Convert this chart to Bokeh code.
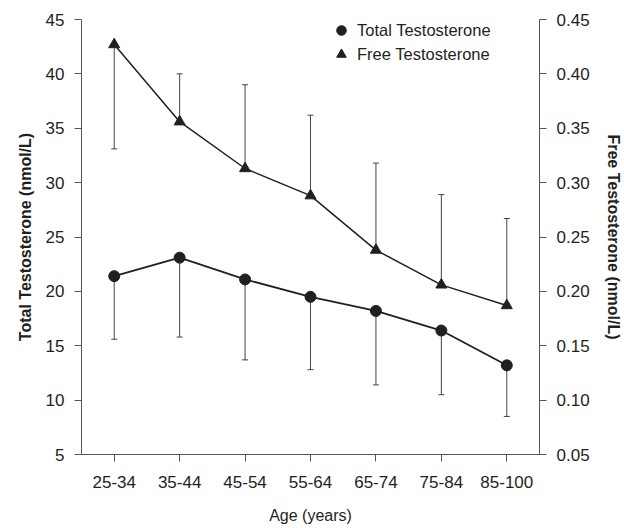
from bokeh.plotting import figure
from bokeh.models import (Range1d, LinearAxis, FixedTicker, PrintfTickFormatter,
                          Legend, LegendItem, ColumnDataSource)
from bokeh.embed import file_html
from bokeh.resources import INLINE

ages = ["25-34", "35-44", "45-54", "55-64", "65-74", "75-84", "85-100"]
total = [21.4, 23.1, 21.1, 19.5, 18.2, 16.4, 13.2]
total_bar_end = [15.6, 15.8, 13.7, 12.8, 11.4, 10.5, 8.5]
free = [0.427, 0.356, 0.313, 0.288, 0.238, 0.206, 0.187]
free_bar_end = [0.331, 0.400, 0.390, 0.362, 0.318, 0.289, 0.267]
left_ticks = [5, 10, 15, 20, 25, 30, 35, 40, 45]
right_ticks = [0.05, 0.10, 0.15, 0.20, 0.25, 0.30, 0.35, 0.40, 0.45]

FONT = "Liberation Sans"
INK = "#231f20"
AXC = "#555555"

src = ColumnDataSource(dict(age=ages, total=total, tlow=total_bar_end,
                            free=free, fend=free_bar_end))

p = figure(width=624, height=528, x_range=ages, y_range=Range1d(5, 45),
           output_backend="svg", toolbar_location=None,
           min_border_left=81, min_border_right=82, min_border_top=19,
           min_border_bottom=74)
p.extra_y_ranges = {"free": Range1d(0.05, 0.45)}
p.outline_line_color = None
p.xgrid.grid_line_color = None
p.ygrid.grid_line_color = None
p.x_range.range_padding = 0

def style(ax):
    ax.axis_line_color = AXC
    ax.major_tick_line_color = AXC
    ax.minor_tick_line_color = None
    ax.major_tick_in = 0
    ax.major_tick_out = 7
    ax.major_label_text_font = FONT
    ax.major_label_text_font_size = "17px"
    ax.major_label_text_color = INK
    ax.axis_label_text_font = FONT
    ax.axis_label_text_font_size = "16px"
    ax.axis_label_text_color = INK

xa = p.xaxis[0]
style(xa)
xa.axis_label = "Age (years)"
xa.axis_label_text_font_style = "normal"
xa.major_label_standoff = 14
xa.axis_label_standoff = 16

ya = p.yaxis[0]
style(ya)
ya.ticker = FixedTicker(ticks=left_ticks)
ya.axis_label = "Total Testosterone (nmol/L)"
ya.axis_label_text_font_style = "bold"
ya.major_label_standoff = 10
ya.axis_label_standoff = 9

ra = LinearAxis(y_range_name="free", ticker=FixedTicker(ticks=right_ticks),
                formatter=PrintfTickFormatter(format="%.2f"))
style(ra)
ra.axis_label = "Free Testosterone (nmol/L)"
ra.axis_label_text_font_style = "bold"
ra.major_label_standoff = 10
ra.axis_label_standoff = 12
p.add_layout(ra, "right")

# error bars
p.segment(x0="age", y0="total", x1="age", y1="tlow", source=src,
          line_color="#444444", line_width=1)
p.scatter(x="age", y="tlow", source=src, marker="dash", size=6,
          line_color="#444444", line_width=1)
p.segment(x0="age", y0="free", x1="age", y1="fend", source=src,
          line_color="#444444", line_width=1, y_range_name="free")
p.scatter(x="age", y="fend", source=src, marker="dash", size=6,
          line_color="#444444", line_width=1, y_range_name="free")

# lines
p.line(x="age", y="total", source=src, line_color=INK, line_width=1.8)
p.line(x="age", y="free", source=src, line_color=INK, line_width=1.5,
       y_range_name="free")

c = p.scatter(x="age", y="total", source=src, marker="circle", size=11,
              fill_color=INK, line_color=INK)
t = p.scatter(x="age", y="free", source=src, marker="triangle", size=11,
              fill_color=INK, line_color=INK, y_range_name="free")

legend = Legend(items=[LegendItem(label="Total Testosterone", renderers=[c]),
                       LegendItem(label="Free Testosterone", renderers=[t])],
                location=(248, 388), padding=0, margin=0, spacing=0,
                glyph_width=24, glyph_height=24, label_standoff=4,
                label_text_font=FONT, label_text_font_size="16.5px",
                label_text_color=INK, border_line_color=None,
                background_fill_alpha=0)
p.add_layout(legend)

open("out.html", "w").write(file_html(p, INLINE))
